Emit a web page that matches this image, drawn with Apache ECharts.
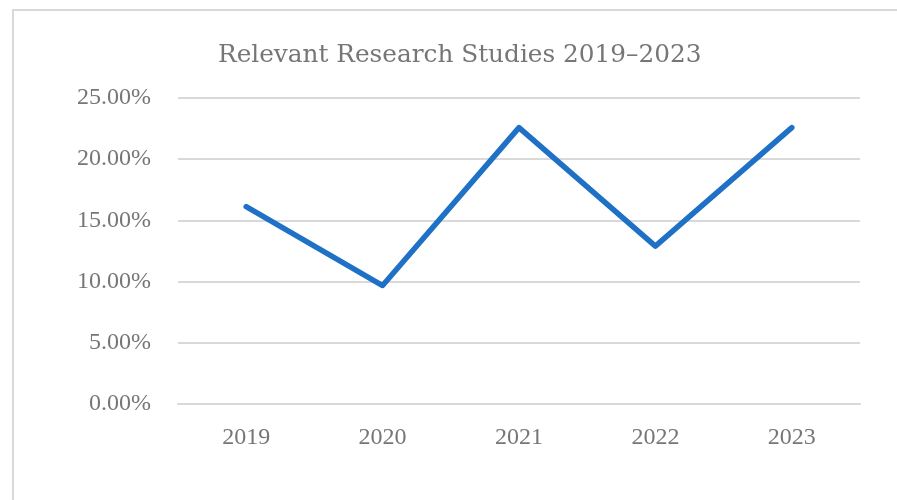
<!DOCTYPE html>
<html lang="en">
<head>
    <meta charset="UTF-8">
    <title>Relevant Research Studies</title>
    <style>
        body {
            margin: 0;
            background-color: #fff;
        }

        #frame {
            position: absolute;
            left: 12px;
            top: 9px;
            width: 1000px;
            height: 600px;
            border: 2px solid #d9d9d9;
        }

        #chart {
            position: absolute;
            left: 0;
            top: 0;
            width: 897px;
            height: 500px;
        }
    </style>
</head>
<body>

    <div id="frame"></div>
    <div id="chart"></div>

    <script src="https://cdn.jsdelivr.net/npm/echarts@6/dist/echarts.min.js"></script>
    <script>

        // years on the x axis
        const years = ['2019', '2020', '2021', '2022', '2023'];

        // share of relevant studies, in %
        const shares = [16.13, 9.68, 22.58, 12.90, 22.58];

        const chart = echarts.init(document.getElementById('chart'), null, { renderer: 'canvas' });

        const textColor = '#767676';

        const option = {
            title: {
                text: 'Relevant Research Studies 2019–2023',
                left: 213,
                top: 38,
                textStyle: {
                    fontFamily: 'DejaVu Serif',
                    fontSize: 24.75,
                    fontWeight: 'normal',
                    color: textColor,
                },
            },
            grid: {
                left: 178,
                right: 37,
                top: 98,
                bottom: 96,
            },
            xAxis: {
                type: 'category',
                data: years,
                boundaryGap: true,
                axisTick: { show: false },
                axisLine: {
                    show: true,
                    lineStyle: { color: '#d9d9d9', width: 2 },
                },
                axisLabel: {
                    fontFamily: 'Liberation Serif',
                    fontSize: 24,
                    color: textColor,
                    margin: 22,
                },
            },
            yAxis: {
                type: 'value',
                min: 0,
                max: 25,
                interval: 5,
                axisLine: { show: false },
                axisTick: { show: false },
                axisLabel: {
                    fontFamily: 'Liberation Serif',
                    fontSize: 24,
                    color: textColor,
                    margin: 27,
                    formatter: v => v.toFixed(2) + '%',
                },
                splitLine: {
                    lineStyle: { color: '#d9d9d9', width: 2 },
                },
            },
            series: [
                {
                    type: 'line',
                    data: shares,
                    showSymbol: false,
                    symbol: 'none',
                    lineStyle: {
                        color: '#1f71c6',
                        width: 5.5,
                        cap: 'round',
                        join: 'round',
                    },
                    animation: false,
                },
            ],
        };

        chart.setOption(option);

    </script>
</body>
</html>
